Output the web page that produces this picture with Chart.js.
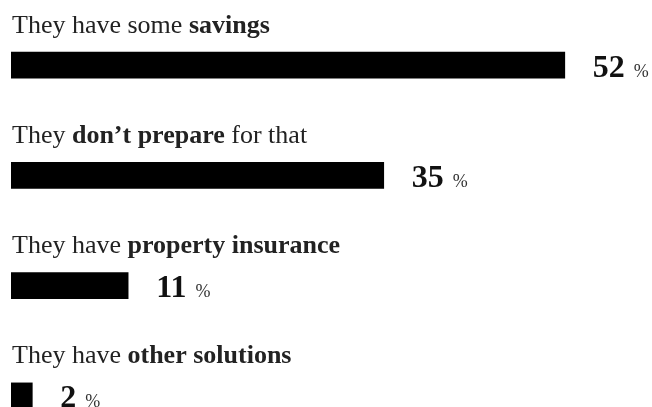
<!DOCTYPE html>
<html>
<head>
<meta charset="utf-8">
<script src="https://cdn.jsdelivr.net/npm/chart.js@4"></script>
<style>
  html, body { margin: 0; padding: 0; background: #fff; overflow: hidden; }
  #wrap { width: 652px; height: 451px; position: relative; }
</style>
</head>
<body>
<div id="wrap"><canvas id="myChart"></canvas></div>
<script>
// label pieces: normal start, bold middle, normal end
const labelStart = ["They have some ", "They ", "They have ", "They have "];
const labelBold = ["savings", "don\u2019t prepare", "property insurance", "other solutions"];
const labelEnd = ["", " for that", "", ""];
const values = [52, 35, 11, 2];
const categories = labelStart.map((s, i) => s + labelBold[i] + labelEnd[i]);

const ctx = document.getElementById("myChart");
const serif = "'Liberation Serif', 'Times New Roman', serif";

const barLabels = {
  id: "barLabels",
  afterDatasetsDraw(chart) {
    const c = chart.ctx;
    const meta = chart.getDatasetMeta(0);
    c.save();
    c.textBaseline = "alphabetic";
    c.textAlign = "left";
    meta.data.forEach((bar, i) => {
      // category text above bar
      let x = 12;
      const y = bar.y - 32.5;
      c.fillStyle = "#222";
      const parts = [
        [labelStart[i], false],
        [labelBold[i], true],
        [labelEnd[i], false],
      ];
      parts.forEach(([txt, bold]) => {
        if (!txt) return;
        c.font = (bold ? "bold " : "") + "26px " + serif;
        c.fillText(txt, x, y);
        x += c.measureText(txt).width;
      });

      // value right of bar
      c.fillStyle = "#111";
      c.font = "bold 32px " + serif;
      const num = String(values[i]);
      const vx = bar.x + 28;
      const vy = bar.y + 11.5;
      c.fillText(num, vx, vy);
      const w = c.measureText(num).width;
      c.fillStyle = "#333";
      c.font = "18px " + serif;
      c.fillText("%", vx + w + 9, vy);
    });
    c.restore();
  },
};

new Chart(ctx, {
  type: "bar",
  data: {
    labels: categories,
    datasets: [
      {
        data: values,
        backgroundColor: "#000",
        borderWidth: 0,
        barThickness: 26,
      },
    ],
  },
  options: {
    indexAxis: "y",
    responsive: true,
    maintainAspectRatio: false,
    animation: false,
    layout: { padding: { left: 11, right: 2, top: 10, bottom: 0 } },
    plugins: {
      legend: { display: false },
      tooltip: { enabled: false },
    },
    scales: {
      x: { display: false, min: 0, max: 60 },
      y: { display: false },
    },
  },
  plugins: [barLabels],
});
</script>
</body>
</html>
